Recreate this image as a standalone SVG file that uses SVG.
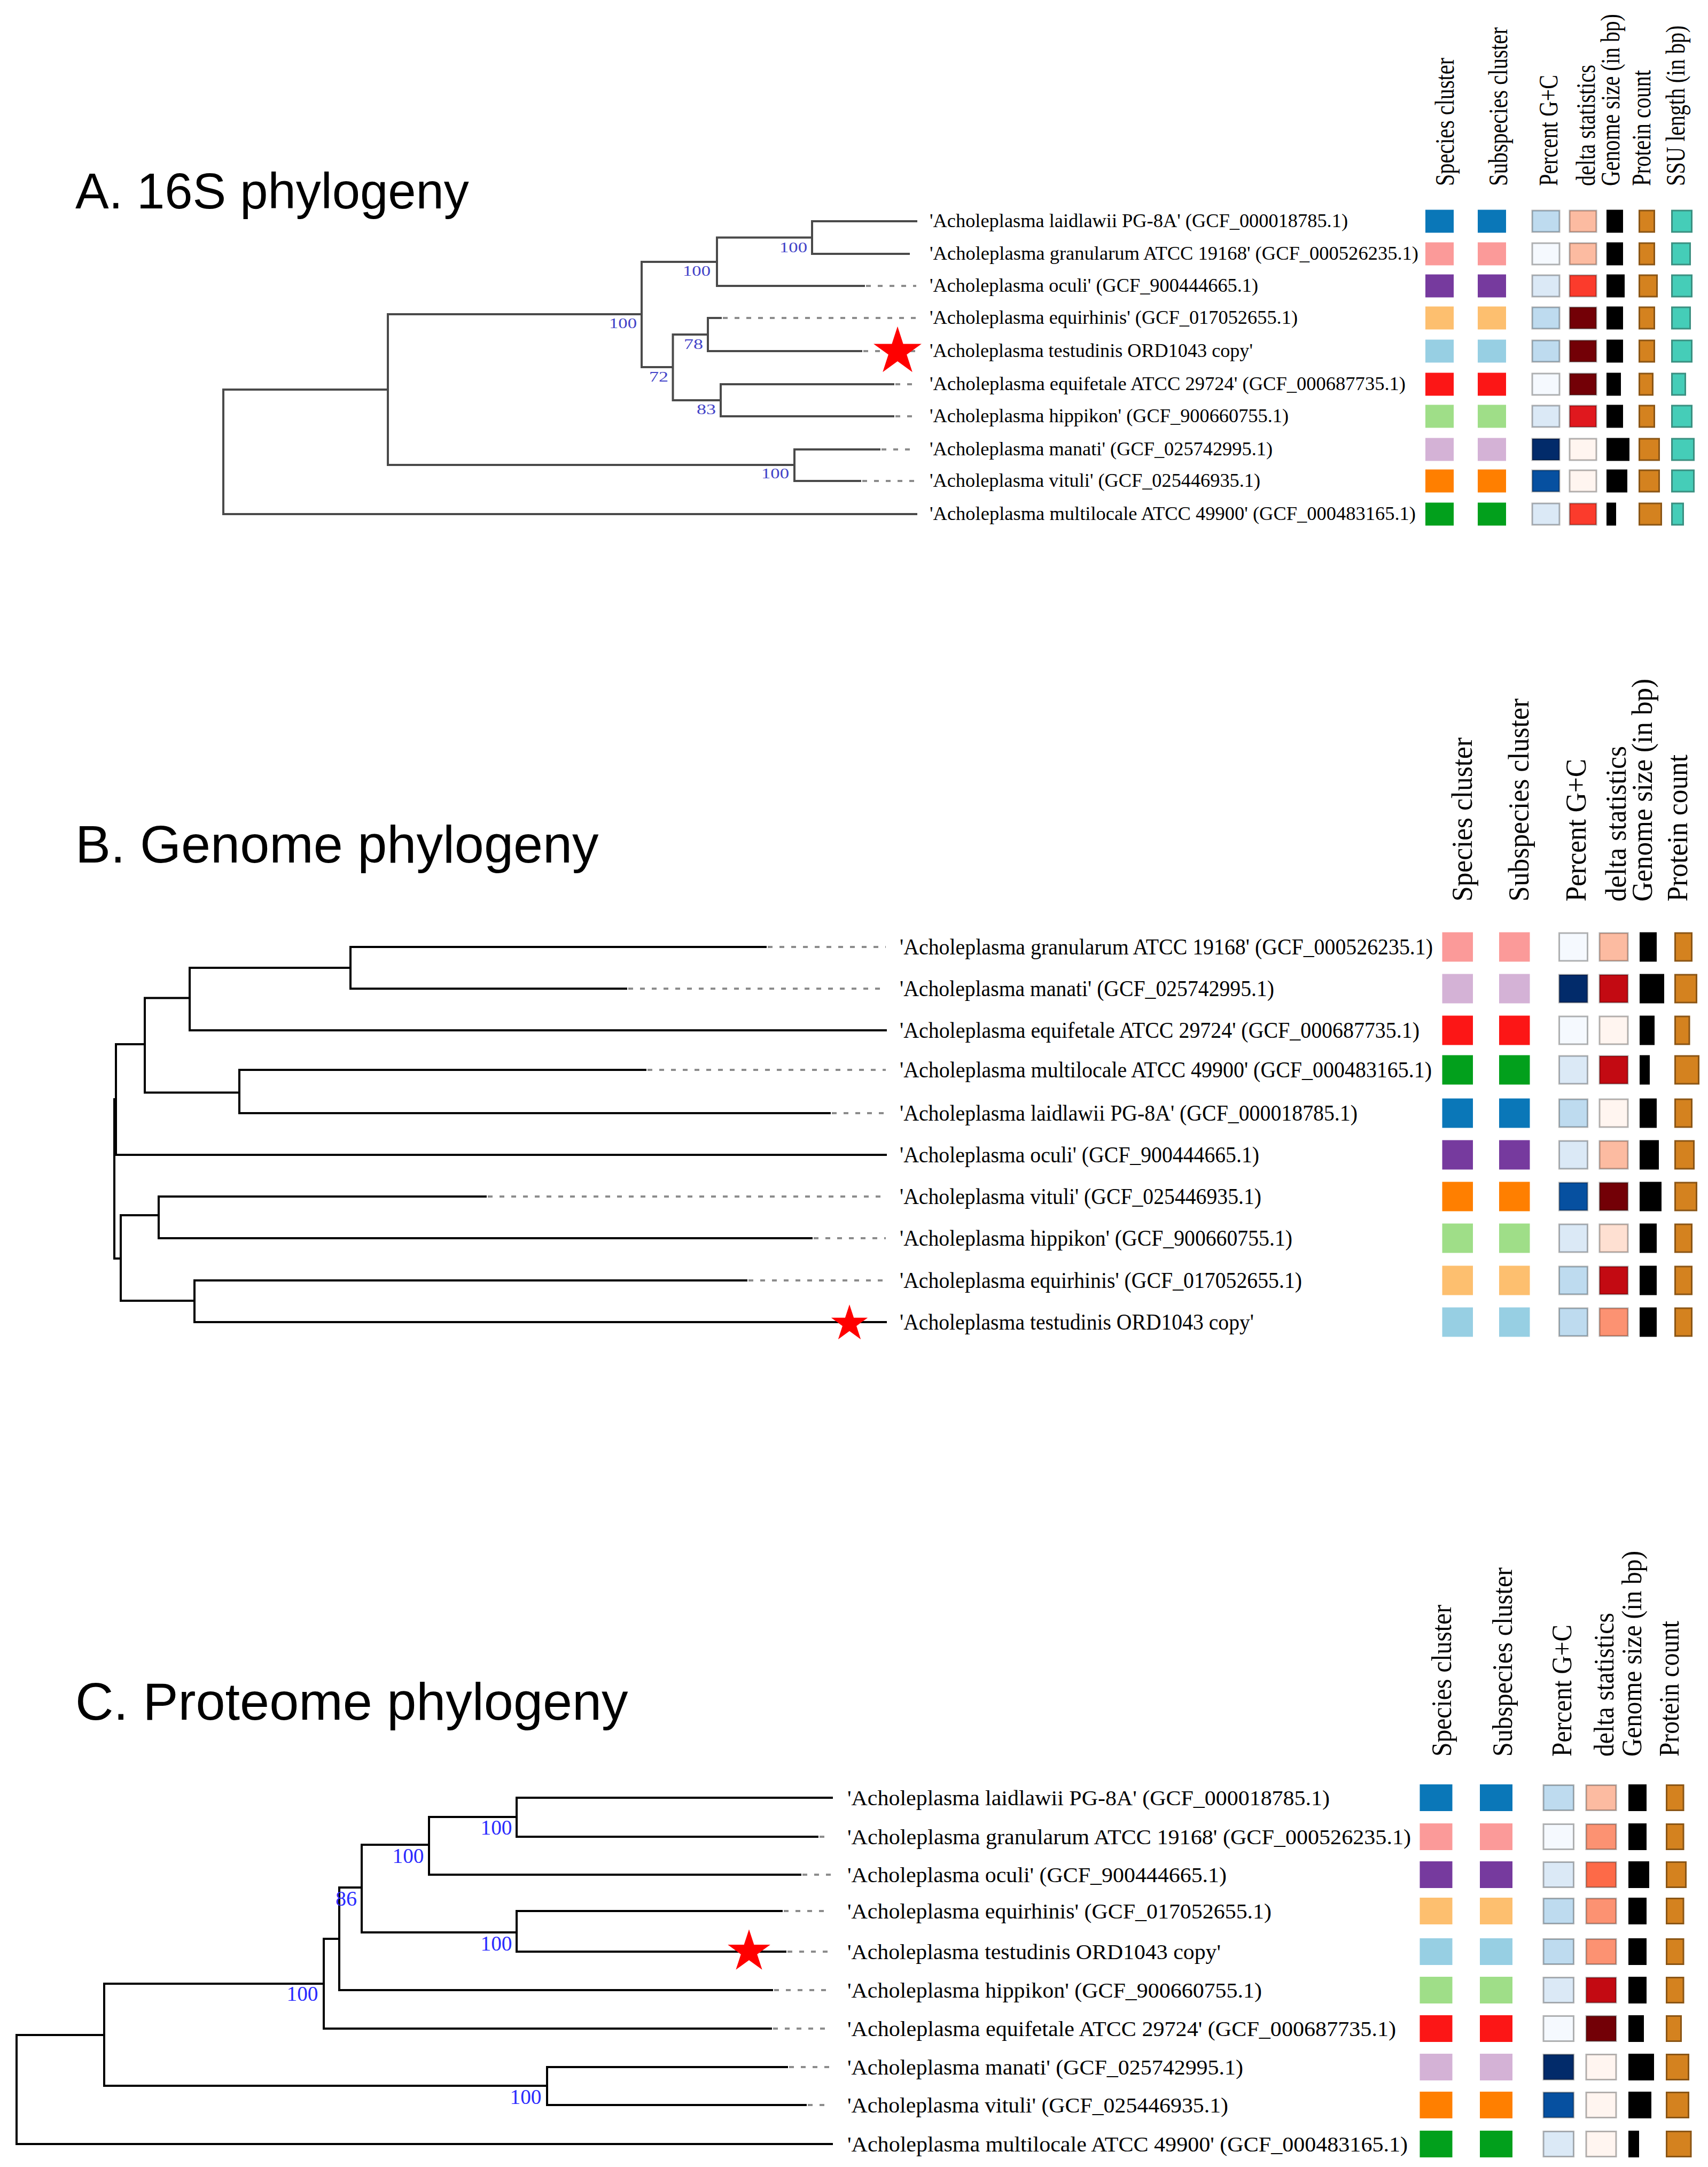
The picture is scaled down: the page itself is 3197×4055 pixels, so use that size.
<svg xmlns="http://www.w3.org/2000/svg" xmlns:xlink="http://www.w3.org/1999/xlink" width="3197" height="4055" viewBox="0 0 3197 4055">
<style>
.title{font-family:"Liberation Sans",Arial,sans-serif;fill:#000}
.lbl{font-family:"Liberation Serif","Times New Roman",serif;fill:#000}
.hdr{font-family:"Liberation Serif","Times New Roman",serif;fill:#000}
.bs{font-family:"Liberation Serif","Times New Roman",serif;text-anchor:middle}
.bsA{fill:#4343c8;font-size:28px}
.bsC{fill:#2a2aff;font-size:40px}
.brA{stroke:#4a4a4a;stroke-width:4;fill:none;stroke-linecap:square}
.br{stroke:#000;stroke-width:4;fill:none;stroke-linecap:square}
.dot{stroke:#8c8c8c;stroke-width:4;fill:none;stroke-dasharray:9 13}
.gc,.dl{stroke:#000;stroke-opacity:.3;stroke-width:3}
.gs{fill:#000}
.pc{fill:#d4821f;stroke:#8a5515;stroke-width:3}
.ssu{fill:#45cdb8;stroke:#3a8f80;stroke-width:3}
.star{fill:#ff0000}
</style>
<defs>
<polygon id="star" points="0,-45 10.11,-13.91 42.8,-13.91 16.36,5.31 26.45,36.41 0,17.2 -26.45,36.41 -16.36,5.31 -42.8,-13.91 -10.11,-13.91"/>
</defs>
<rect x="0" y="0" width="3197" height="4055" fill="#fff"/>

<!-- ================= PANEL A ================= -->
<g id="panelA">
<text class="title" x="141" y="390" font-size="94">A. 16S phylogeny</text>
<g id="A-headers" class="hdr" font-size="50">
<text transform="translate(2721,348) rotate(-90)" textLength="240" lengthAdjust="spacingAndGlyphs">Species cluster</text>
<text transform="translate(2821,348) rotate(-90) scale(0.807,1)">Subspecies cluster</text>
<text transform="translate(2915,348) rotate(-90)" textLength="208" lengthAdjust="spacingAndGlyphs">Percent G+C</text>
<text transform="translate(2985,348) rotate(-90)" textLength="227" lengthAdjust="spacingAndGlyphs">delta statistics</text>
<text transform="translate(3031,348) rotate(-90) scale(0.791,1)">Genome size (in bp)</text>
<text transform="translate(3089,348) rotate(-90)" textLength="217" lengthAdjust="spacingAndGlyphs">Protein count</text>
<text transform="translate(3153,348) rotate(-90) scale(0.798,1)">SSU length (in bp)</text>
</g>
<g id="A-connectors">
<path class="brA" d="M418 729V962M418 729H726M418 962H1715M726 588V870M726 588H1201M726 870H1487M1201 490V687M1201 490H1342M1201 687H1259.5M1342 444.5V535M1342 444.5H1520M1342 535H1617M1520 414V475M1520 414H1715M1520 475H1701M1259.5 626V749M1259.5 626H1325M1259.5 749H1349M1325 595V657M1325 595H1349M1325 657H1612M1349 719V779M1349 719H1672M1349 779H1672M1487 841V900M1487 841H1646M1487 900H1610"/>
<path class="dot" d="M1621 535H1715M1353 595H1715M1616 657H1715M1676 719H1715M1676 779H1715M1650 841H1715M1614 900H1715"/>
<g class="bs bsA">
<text x="1485" y="472" textLength="52" lengthAdjust="spacingAndGlyphs">100</text>
<text x="1304" y="516" textLength="52" lengthAdjust="spacingAndGlyphs">100</text>
<text x="1166" y="614" textLength="52" lengthAdjust="spacingAndGlyphs">100</text>
<text x="1298" y="653" textLength="36" lengthAdjust="spacingAndGlyphs">78</text>
<text x="1233" y="714" textLength="36" lengthAdjust="spacingAndGlyphs">72</text>
<text x="1322" y="775" textLength="36" lengthAdjust="spacingAndGlyphs">83</text>
<text x="1451" y="895" textLength="52" lengthAdjust="spacingAndGlyphs">100</text>
</g>
</g>
<use href="#star" class="star" transform="translate(1680,658) scale(1.05)"/>
<g class="lbl" font-size="35">
<g id="A-laidlawii"><text x="1740" y="425" textLength="783" lengthAdjust="spacingAndGlyphs">'Acholeplasma laidlawii PG-8A' (GCF_000018785.1)</text>
<rect x="2668" y="392.5" width="53" height="43" fill="#0a77b8"/><rect x="2766" y="392.5" width="53" height="43" fill="#0a77b8"/>
<rect class="gc" x="2868" y="394" width="51" height="40" fill="#bedbef"/><rect class="dl" x="2938" y="394" width="50" height="40" fill="#fcbba1"/>
<rect class="gs" x="3007" y="392.5" width="31" height="43"/><rect class="pc" x="3068.5" y="394" width="28" height="40"/><rect class="ssu" x="3129.5" y="394" width="37" height="40"/></g>
<g id="A-granularum"><text x="1740" y="486" textLength="915" lengthAdjust="spacingAndGlyphs">'Acholeplasma granularum ATCC 19168' (GCF_000526235.1)</text>
<rect x="2668" y="453.5" width="53" height="43" fill="#fb9a99"/><rect x="2766" y="453.5" width="53" height="43" fill="#fb9a99"/>
<rect class="gc" x="2868" y="455" width="51" height="40" fill="#f5f9fe"/><rect class="dl" x="2938" y="455" width="50" height="40" fill="#fcbba1"/>
<rect class="gs" x="3007" y="453.5" width="31" height="43"/><rect class="pc" x="3068.5" y="455" width="28" height="40"/><rect class="ssu" x="3129.5" y="455" width="34" height="40"/></g>
<g id="A-oculi"><text x="1740" y="546" textLength="615" lengthAdjust="spacingAndGlyphs">'Acholeplasma oculi' (GCF_900444665.1)</text>
<rect x="2668" y="513.5" width="53" height="43" fill="#763a9e"/><rect x="2766" y="513.5" width="53" height="43" fill="#763a9e"/>
<rect class="gc" x="2868" y="515" width="51" height="40" fill="#dbe9f6"/><rect class="dl" x="2938" y="515" width="50" height="40" fill="#fb3b2c"/>
<rect class="gs" x="3007" y="513.5" width="34" height="43"/><rect class="pc" x="3068.5" y="515" width="33" height="40"/><rect class="ssu" x="3129.5" y="515" width="37" height="40"/></g>
<g id="A-equirhinis"><text x="1740" y="606" textLength="689" lengthAdjust="spacingAndGlyphs">'Acholeplasma equirhinis' (GCF_017052655.1)</text>
<rect x="2668" y="573.5" width="53" height="43" fill="#fdbf6f"/><rect x="2766" y="573.5" width="53" height="43" fill="#fdbf6f"/>
<rect class="gc" x="2868" y="575" width="51" height="40" fill="#bedbef"/><rect class="dl" x="2938" y="575" width="50" height="40" fill="#730006"/>
<rect class="gs" x="3007" y="573.5" width="31" height="43"/><rect class="pc" x="3068.5" y="575" width="28" height="40"/><rect class="ssu" x="3129.5" y="575" width="34" height="40"/></g>
<g id="A-testudinis"><text x="1740" y="668" textLength="605" lengthAdjust="spacingAndGlyphs">'Acholeplasma testudinis ORD1043 copy'</text>
<rect x="2668" y="635.5" width="53" height="43" fill="#97cfe3"/><rect x="2766" y="635.5" width="53" height="43" fill="#97cfe3"/>
<rect class="gc" x="2868" y="637" width="51" height="40" fill="#bedbef"/><rect class="dl" x="2938" y="637" width="50" height="40" fill="#730006"/>
<rect class="gs" x="3007" y="635.5" width="31" height="43"/><rect class="pc" x="3068.5" y="637" width="28" height="40"/><rect class="ssu" x="3129.5" y="637" width="37" height="40"/></g>
<g id="A-equifetale"><text x="1740" y="730" textLength="891" lengthAdjust="spacingAndGlyphs">'Acholeplasma equifetale ATCC 29724' (GCF_000687735.1)</text>
<rect x="2668" y="697.5" width="53" height="43" fill="#fc1616"/><rect x="2766" y="697.5" width="53" height="43" fill="#fc1616"/>
<rect class="gc" x="2868" y="699" width="51" height="40" fill="#f5f9fe"/><rect class="dl" x="2938" y="699" width="50" height="40" fill="#730006"/>
<rect class="gs" x="3007" y="697.5" width="27" height="43"/><rect class="pc" x="3068.5" y="699" width="25" height="40"/><rect class="ssu" x="3129.5" y="699" width="25" height="40"/></g>
<g id="A-hippikon"><text x="1740" y="790" textLength="672" lengthAdjust="spacingAndGlyphs">'Acholeplasma hippikon' (GCF_900660755.1)</text>
<rect x="2668" y="757.5" width="53" height="43" fill="#9fde88"/><rect x="2766" y="757.5" width="53" height="43" fill="#9fde88"/>
<rect class="gc" x="2868" y="759" width="51" height="40" fill="#dbe9f6"/><rect class="dl" x="2938" y="759" width="50" height="40" fill="#e0181e"/>
<rect class="gs" x="3007" y="757.5" width="31" height="43"/><rect class="pc" x="3068.5" y="759" width="28" height="40"/><rect class="ssu" x="3129.5" y="759" width="37" height="40"/></g>
<g id="A-manati"><text x="1740" y="852" textLength="642" lengthAdjust="spacingAndGlyphs">'Acholeplasma manati' (GCF_025742995.1)</text>
<rect x="2668" y="819.5" width="53" height="43" fill="#d4b2d6"/><rect x="2766" y="819.5" width="53" height="43" fill="#d4b2d6"/>
<rect class="gc" x="2868" y="821" width="51" height="40" fill="#022b6a"/><rect class="dl" x="2938" y="821" width="50" height="40" fill="#fff5f0"/>
<rect class="gs" x="3007" y="819.5" width="43" height="43"/><rect class="pc" x="3068.5" y="821" width="37" height="40"/><rect class="ssu" x="3129.5" y="821" width="41" height="40"/></g>
<g id="A-vituli"><text x="1740" y="911" textLength="619" lengthAdjust="spacingAndGlyphs">'Acholeplasma vituli' (GCF_025446935.1)</text>
<rect x="2668" y="878.5" width="53" height="43" fill="#ff7f00"/><rect x="2766" y="878.5" width="53" height="43" fill="#ff7f00"/>
<rect class="gc" x="2868" y="880" width="51" height="40" fill="#0650a0"/><rect class="dl" x="2938" y="880" width="50" height="40" fill="#fff5f0"/>
<rect class="gs" x="3007" y="878.5" width="39" height="43"/><rect class="pc" x="3068.5" y="880" width="37" height="40"/><rect class="ssu" x="3129.5" y="880" width="41" height="40"/></g>
<g id="A-multilocale"><text x="1740" y="973" textLength="910" lengthAdjust="spacingAndGlyphs">'Acholeplasma multilocale ATCC 49900' (GCF_000483165.1)</text>
<rect x="2668" y="940.5" width="53" height="43" fill="#02a01c"/><rect x="2766" y="940.5" width="53" height="43" fill="#02a01c"/>
<rect class="gc" x="2868" y="942" width="51" height="40" fill="#dbe9f6"/><rect class="dl" x="2938" y="942" width="50" height="40" fill="#fb3b2c"/>
<rect class="gs" x="3007" y="940.5" width="18" height="43"/><rect class="pc" x="3068.5" y="942" width="41" height="40"/><rect class="ssu" x="3129.5" y="942" width="21" height="40"/></g>
</g>
</g>

<!-- ================= PANEL B ================= -->
<g id="panelB">
<text class="title" x="141" y="1614" font-size="99">B. Genome phylogeny</text>
<g id="B-headers" class="hdr" font-size="55">
<text transform="translate(2755,1687) rotate(-90)" textLength="307" lengthAdjust="spacingAndGlyphs">Species cluster</text>
<text transform="translate(2861,1687) rotate(-90)" textLength="380" lengthAdjust="spacingAndGlyphs">Subspecies cluster</text>
<text transform="translate(2968,1687) rotate(-90)" textLength="267" lengthAdjust="spacingAndGlyphs">Percent G+C</text>
<text transform="translate(3043,1687) rotate(-90)" textLength="291" lengthAdjust="spacingAndGlyphs">delta statistics</text>
<text transform="translate(3092,1687) rotate(-90)" textLength="417" lengthAdjust="spacingAndGlyphs">Genome size (in bp)</text>
<text transform="translate(3158,1687) rotate(-90)" textLength="275" lengthAdjust="spacingAndGlyphs">Protein count</text>
</g>
<g id="B-connectors">
<path class="br" d="M656 1772V1850M656 1772H1433M656 1850H1172M355 1811H656M355 1811V1928M355 1928H1658M271 1867.5V2044.5M271 1867.5H355M271 2044.5H448M448 2002V2083M448 2002H1208M448 2083H1553M217 1954V2161M217 1954H271M214 2161H1658M214 2057V2355M214 2355H226M226 2274V2434M226 2274H297M226 2434H364M297 2239V2317M297 2239H909M297 2317H1519M364 2396V2474M364 2396H1397M364 2474H1658"/>
<path class="dot" d="M1437 1772H1658M1176 1850H1658M1212 2002H1658M1557 2083H1658M913 2239H1658M1523 2317H1658M1401 2396H1658"/>
</g>
<use href="#star" class="star" transform="translate(1590,2477) scale(0.8)"/>
<g class="lbl" font-size="42">
<g id="B-granularum"><text x="1684" y="1786" textLength="998" lengthAdjust="spacingAndGlyphs">'Acholeplasma granularum ATCC 19168' (GCF_000526235.1)</text>
<rect x="2699.5" y="1744.5" width="57.5" height="55" fill="#fb9a99"/><rect x="2806" y="1744.5" width="57.5" height="55" fill="#fb9a99"/>
<rect class="gc" x="2918.5" y="1746" width="53" height="52" fill="#f5f9fe"/><rect class="dl" x="2994" y="1746" width="53" height="52" fill="#fcbba1"/>
<rect class="gs" x="3069" y="1744.5" width="32" height="55"/><rect class="pc" x="3135.5" y="1746" width="31" height="52"/></g>
<g id="B-manati"><text x="1684" y="1864" textLength="701" lengthAdjust="spacingAndGlyphs">'Acholeplasma manati' (GCF_025742995.1)</text>
<rect x="2699.5" y="1822.5" width="57.5" height="55" fill="#d4b2d6"/><rect x="2806" y="1822.5" width="57.5" height="55" fill="#d4b2d6"/>
<rect class="gc" x="2918.5" y="1824" width="53" height="52" fill="#022b6a"/><rect class="dl" x="2994" y="1824" width="53" height="52" fill="#c30a12"/>
<rect class="gs" x="3069" y="1822.5" width="46" height="55"/><rect class="pc" x="3135.5" y="1824" width="40" height="52"/></g>
<g id="B-equifetale"><text x="1684" y="1942" textLength="973" lengthAdjust="spacingAndGlyphs">'Acholeplasma equifetale ATCC 29724' (GCF_000687735.1)</text>
<rect x="2699.5" y="1900.5" width="57.5" height="55" fill="#fc1616"/><rect x="2806" y="1900.5" width="57.5" height="55" fill="#fc1616"/>
<rect class="gc" x="2918.5" y="1902" width="53" height="52" fill="#f5f9fe"/><rect class="dl" x="2994" y="1902" width="53" height="52" fill="#fff5f0"/>
<rect class="gs" x="3069" y="1900.5" width="28" height="55"/><rect class="pc" x="3135.5" y="1902" width="26.5" height="52"/></g>
<g id="B-multilocale"><text x="1684" y="2016" textLength="996" lengthAdjust="spacingAndGlyphs">'Acholeplasma multilocale ATCC 49900' (GCF_000483165.1)</text>
<rect x="2699.5" y="1974.5" width="57.5" height="55" fill="#02a01c"/><rect x="2806" y="1974.5" width="57.5" height="55" fill="#02a01c"/>
<rect class="gc" x="2918.5" y="1976" width="53" height="52" fill="#dbe9f6"/><rect class="dl" x="2994" y="1976" width="53" height="52" fill="#c30a12"/>
<rect class="gs" x="3069" y="1974.5" width="19" height="55"/><rect class="pc" x="3135.5" y="1976" width="44" height="52"/></g>
<g id="B-laidlawii"><text x="1684" y="2097" textLength="857" lengthAdjust="spacingAndGlyphs">'Acholeplasma laidlawii PG-8A' (GCF_000018785.1)</text>
<rect x="2699.5" y="2055.5" width="57.5" height="55" fill="#0a77b8"/><rect x="2806" y="2055.5" width="57.5" height="55" fill="#0a77b8"/>
<rect class="gc" x="2918.5" y="2057" width="53" height="52" fill="#bedbef"/><rect class="dl" x="2994" y="2057" width="53" height="52" fill="#fff5f0"/>
<rect class="gs" x="3069" y="2055.5" width="32" height="55"/><rect class="pc" x="3135.5" y="2057" width="31" height="52"/></g>
<g id="B-oculi"><text x="1684" y="2175" textLength="673" lengthAdjust="spacingAndGlyphs">'Acholeplasma oculi' (GCF_900444665.1)</text>
<rect x="2699.5" y="2133.5" width="57.5" height="55" fill="#763a9e"/><rect x="2806" y="2133.5" width="57.5" height="55" fill="#763a9e"/>
<rect class="gc" x="2918.5" y="2135" width="53" height="52" fill="#dbe9f6"/><rect class="dl" x="2994" y="2135" width="53" height="52" fill="#fcbba1"/>
<rect class="gs" x="3069" y="2133.5" width="36" height="55"/><rect class="pc" x="3135.5" y="2135" width="35" height="52"/></g>
<g id="B-vituli"><text x="1684" y="2253" textLength="677" lengthAdjust="spacingAndGlyphs">'Acholeplasma vituli' (GCF_025446935.1)</text>
<rect x="2699.5" y="2211.5" width="57.5" height="55" fill="#ff7f00"/><rect x="2806" y="2211.5" width="57.5" height="55" fill="#ff7f00"/>
<rect class="gc" x="2918.5" y="2213" width="53" height="52" fill="#0650a0"/><rect class="dl" x="2994" y="2213" width="53" height="52" fill="#730006"/>
<rect class="gs" x="3069" y="2211.5" width="41" height="55"/><rect class="pc" x="3135.5" y="2213" width="40" height="52"/></g>
<g id="B-hippikon"><text x="1684" y="2331" textLength="735" lengthAdjust="spacingAndGlyphs">'Acholeplasma hippikon' (GCF_900660755.1)</text>
<rect x="2699.5" y="2289.5" width="57.5" height="55" fill="#9fde88"/><rect x="2806" y="2289.5" width="57.5" height="55" fill="#9fde88"/>
<rect class="gc" x="2918.5" y="2291" width="53" height="52" fill="#dbe9f6"/><rect class="dl" x="2994" y="2291" width="53" height="52" fill="#fee0d2"/>
<rect class="gs" x="3069" y="2289.5" width="32" height="55"/><rect class="pc" x="3135.5" y="2291" width="31" height="52"/></g>
<g id="B-equirhinis"><text x="1684" y="2410" textLength="753" lengthAdjust="spacingAndGlyphs">'Acholeplasma equirhinis' (GCF_017052655.1)</text>
<rect x="2699.5" y="2368.5" width="57.5" height="55" fill="#fdbf6f"/><rect x="2806" y="2368.5" width="57.5" height="55" fill="#fdbf6f"/>
<rect class="gc" x="2918.5" y="2370" width="53" height="52" fill="#bedbef"/><rect class="dl" x="2994" y="2370" width="53" height="52" fill="#c30a12"/>
<rect class="gs" x="3069" y="2368.5" width="32" height="55"/><rect class="pc" x="3135.5" y="2370" width="31" height="52"/></g>
<g id="B-testudinis"><text x="1684" y="2488" textLength="663" lengthAdjust="spacingAndGlyphs">'Acholeplasma testudinis ORD1043 copy'</text>
<rect x="2699.5" y="2446.5" width="57.5" height="55" fill="#97cfe3"/><rect x="2806" y="2446.5" width="57.5" height="55" fill="#97cfe3"/>
<rect class="gc" x="2918.5" y="2448" width="53" height="52" fill="#bedbef"/><rect class="dl" x="2994" y="2448" width="53" height="52" fill="#fc9272"/>
<rect class="gs" x="3069" y="2446.5" width="32" height="55"/><rect class="pc" x="3135.5" y="2448" width="31" height="52"/></g>
</g>
</g>

<!-- ================= PANEL C ================= -->
<g id="panelC">
<text class="title" x="141" y="3218" font-size="99">C. Proteome phylogeny</text>
<g id="C-headers" class="hdr" font-size="52">
<text transform="translate(2716,3287) rotate(-90)" textLength="284" lengthAdjust="spacingAndGlyphs">Species cluster</text>
<text transform="translate(2830,3287) rotate(-90)" textLength="354" lengthAdjust="spacingAndGlyphs">Subspecies cluster</text>
<text transform="translate(2941,3287) rotate(-90)" textLength="247" lengthAdjust="spacingAndGlyphs">Percent G+C</text>
<text transform="translate(3020,3287) rotate(-90)" textLength="269" lengthAdjust="spacingAndGlyphs">delta statistics</text>
<text transform="translate(3072,3287) rotate(-90)" textLength="385" lengthAdjust="spacingAndGlyphs">Genome size (in bp)</text>
<text transform="translate(3142,3287) rotate(-90)" textLength="254" lengthAdjust="spacingAndGlyphs">Protein count</text>
</g>
<g id="C-connectors">
<path class="br" d="M31 3808V4012M31 4012H1557M31 3808H195M195 3712V3903M195 3712H606M195 3903H1024M1024 3868V3939M1024 3868H1473M1024 3939H1508M606 3628V3796M606 3628H635M606 3796H1443M635 3532V3724M635 3532H677M635 3724H1445M677 3452V3616M677 3452H803M677 3616H967M967 3576V3652M967 3576H1463M967 3652H1470M803 3400V3508M803 3400H967M803 3508H1498M967 3364V3437M967 3364H1557M967 3437H1530"/>
<path class="dot" d="M1477 3868H1555M1512 3939H1555M1447 3796H1555M1449 3724H1555M1467 3576H1555M1474 3652H1555M1502 3508H1555M1534 3437H1555"/>
<g class="bs bsC">
<text x="929" y="3433" textLength="59" lengthAdjust="spacingAndGlyphs">100</text>
<text x="764" y="3486" textLength="59" lengthAdjust="spacingAndGlyphs">100</text>
<text x="648" y="3566" textLength="40" lengthAdjust="spacingAndGlyphs">86</text>
<text x="929" y="3650" textLength="59" lengthAdjust="spacingAndGlyphs">100</text>
<text x="566" y="3744" textLength="59" lengthAdjust="spacingAndGlyphs">100</text>
<text x="984" y="3937" textLength="59" lengthAdjust="spacingAndGlyphs">100</text>
</g>
</g>
<use href="#star" class="star" transform="translate(1402,3652) scale(0.93)"/>
<g class="lbl" font-size="41">
<g id="C-laidlawii"><text x="1586" y="3378" textLength="903" lengthAdjust="spacingAndGlyphs">'Acholeplasma laidlawii PG-8A' (GCF_000018785.1)</text>
<rect x="2657.5" y="3339" width="61" height="50" fill="#0a77b8"/><rect x="2770" y="3339" width="61" height="50" fill="#0a77b8"/>
<rect class="gc" x="2889" y="3340.5" width="56.5" height="47" fill="#bedbef"/><rect class="dl" x="2969" y="3340.5" width="56" height="47" fill="#fcbba1"/>
<rect class="gs" x="3048" y="3339" width="34" height="50"/><rect class="pc" x="3119.5" y="3340.5" width="31.5" height="47"/></g>
<g id="C-granularum"><text x="1586" y="3451" textLength="1055" lengthAdjust="spacingAndGlyphs">'Acholeplasma granularum ATCC 19168' (GCF_000526235.1)</text>
<rect x="2657.5" y="3412" width="61" height="50" fill="#fb9a99"/><rect x="2770" y="3412" width="61" height="50" fill="#fb9a99"/>
<rect class="gc" x="2889" y="3413.5" width="56.5" height="47" fill="#f5f9fe"/><rect class="dl" x="2969" y="3413.5" width="56" height="47" fill="#fc9272"/>
<rect class="gs" x="3048" y="3412" width="34" height="50"/><rect class="pc" x="3119.5" y="3413.5" width="31.5" height="47"/></g>
<g id="C-oculi"><text x="1586" y="3522" textLength="710" lengthAdjust="spacingAndGlyphs">'Acholeplasma oculi' (GCF_900444665.1)</text>
<rect x="2657.5" y="3483" width="61" height="50" fill="#763a9e"/><rect x="2770" y="3483" width="61" height="50" fill="#763a9e"/>
<rect class="gc" x="2889" y="3484.5" width="56.5" height="47" fill="#dbe9f6"/><rect class="dl" x="2969" y="3484.5" width="56" height="47" fill="#fd6a48"/>
<rect class="gs" x="3048" y="3483" width="39" height="50"/><rect class="pc" x="3119.5" y="3484.5" width="36" height="47"/></g>
<g id="C-equirhinis"><text x="1586" y="3590" textLength="794" lengthAdjust="spacingAndGlyphs">'Acholeplasma equirhinis' (GCF_017052655.1)</text>
<rect x="2657.5" y="3551" width="61" height="50" fill="#fdbf6f"/><rect x="2770" y="3551" width="61" height="50" fill="#fdbf6f"/>
<rect class="gc" x="2889" y="3552.5" width="56.5" height="47" fill="#bedbef"/><rect class="dl" x="2969" y="3552.5" width="56" height="47" fill="#fc9272"/>
<rect class="gs" x="3048" y="3551" width="34" height="50"/><rect class="pc" x="3119.5" y="3552.5" width="31.5" height="47"/></g>
<g id="C-testudinis"><text x="1586" y="3666" textLength="699" lengthAdjust="spacingAndGlyphs">'Acholeplasma testudinis ORD1043 copy'</text>
<rect x="2657.5" y="3627" width="61" height="50" fill="#97cfe3"/><rect x="2770" y="3627" width="61" height="50" fill="#97cfe3"/>
<rect class="gc" x="2889" y="3628.5" width="56.5" height="47" fill="#bedbef"/><rect class="dl" x="2969" y="3628.5" width="56" height="47" fill="#fc9272"/>
<rect class="gs" x="3048" y="3627" width="34" height="50"/><rect class="pc" x="3119.5" y="3628.5" width="31.5" height="47"/></g>
<g id="C-hippikon"><text x="1586" y="3738" textLength="776" lengthAdjust="spacingAndGlyphs">'Acholeplasma hippikon' (GCF_900660755.1)</text>
<rect x="2657.5" y="3699" width="61" height="50" fill="#9fde88"/><rect x="2770" y="3699" width="61" height="50" fill="#9fde88"/>
<rect class="gc" x="2889" y="3700.5" width="56.5" height="47" fill="#dbe9f6"/><rect class="dl" x="2969" y="3700.5" width="56" height="47" fill="#c30a12"/>
<rect class="gs" x="3048" y="3699" width="34" height="50"/><rect class="pc" x="3119.5" y="3700.5" width="31.5" height="47"/></g>
<g id="C-equifetale"><text x="1586" y="3810" textLength="1027" lengthAdjust="spacingAndGlyphs">'Acholeplasma equifetale ATCC 29724' (GCF_000687735.1)</text>
<rect x="2657.5" y="3771" width="61" height="50" fill="#fc1616"/><rect x="2770" y="3771" width="61" height="50" fill="#fc1616"/>
<rect class="gc" x="2889" y="3772.5" width="56.5" height="47" fill="#f5f9fe"/><rect class="dl" x="2969" y="3772.5" width="56" height="47" fill="#730006"/>
<rect class="gs" x="3048" y="3771" width="29" height="50"/><rect class="pc" x="3119.5" y="3772.5" width="27" height="47"/></g>
<g id="C-manati"><text x="1586" y="3882" textLength="741" lengthAdjust="spacingAndGlyphs">'Acholeplasma manati' (GCF_025742995.1)</text>
<rect x="2657.5" y="3843" width="61" height="50" fill="#d4b2d6"/><rect x="2770" y="3843" width="61" height="50" fill="#d4b2d6"/>
<rect class="gc" x="2889" y="3844.5" width="56.5" height="47" fill="#022b6a"/><rect class="dl" x="2969" y="3844.5" width="56" height="47" fill="#fff5f0"/>
<rect class="gs" x="3048" y="3843" width="48" height="50"/><rect class="pc" x="3119.5" y="3844.5" width="41" height="47"/></g>
<g id="C-vituli"><text x="1586" y="3953" textLength="713" lengthAdjust="spacingAndGlyphs">'Acholeplasma vituli' (GCF_025446935.1)</text>
<rect x="2657.5" y="3914" width="61" height="50" fill="#ff7f00"/><rect x="2770" y="3914" width="61" height="50" fill="#ff7f00"/>
<rect class="gc" x="2889" y="3915.5" width="56.5" height="47" fill="#0650a0"/><rect class="dl" x="2969" y="3915.5" width="56" height="47" fill="#fff5f0"/>
<rect class="gs" x="3048" y="3914" width="43" height="50"/><rect class="pc" x="3119.5" y="3915.5" width="41" height="47"/></g>
<g id="C-multilocale"><text x="1586" y="4026" textLength="1049" lengthAdjust="spacingAndGlyphs">'Acholeplasma multilocale ATCC 49900' (GCF_000483165.1)</text>
<rect x="2657.5" y="3987" width="61" height="50" fill="#02a01c"/><rect x="2770" y="3987" width="61" height="50" fill="#02a01c"/>
<rect class="gc" x="2889" y="3988.5" width="56.5" height="47" fill="#dbe9f6"/><rect class="dl" x="2969" y="3988.5" width="56" height="47" fill="#fff5f0"/>
<rect class="gs" x="3048" y="3987" width="20" height="50"/><rect class="pc" x="3119.5" y="3988.5" width="45.5" height="47"/></g>
</g>
</g>
</svg>
